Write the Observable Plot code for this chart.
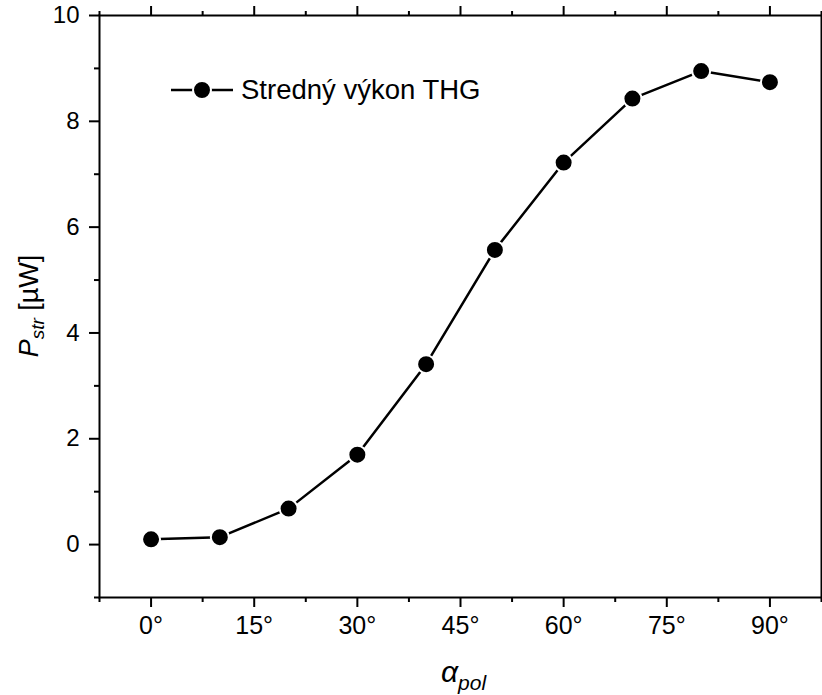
<!DOCTYPE html>
<html><head><meta charset="utf-8">
<script src="https://cdn.jsdelivr.net/npm/d3@7"></script>
<script src="https://cdn.jsdelivr.net/npm/@observablehq/plot@0.6"></script>
<style>body{margin:0;background:#fff} svg{overflow:visible}</style>
</head><body><div id="chart"></div>
<script>
const angles = [0, 10, 20, 30, 40, 50, 60, 70, 80, 90];
const power = [0.10, 0.14, 0.68, 1.70, 3.41, 5.57, 7.22, 8.43, 8.95, 8.74];
const xMajorTicks = [0, 15, 30, 45, 60, 75, 90];
const xMinorTicks = [-7.5, 7.5, 22.5, 37.5, 52.5, 67.5, 82.5, 97.5];
const yMajorTicks = [0, 2, 4, 6, 8, 10];
const yMinorTicks = [-1, 1, 3, 5, 7, 9];
const seriesName = "Stredný výkon THG";

const data = angles.map((a, i) => ({a, p: power[i]}));
const font = "'Liberation Sans', Arial, Helvetica, sans-serif";
const noText = () => "";

const plot = Plot.plot({
  width: 822, height: 695,
  marginLeft: 99, marginRight: 1, marginTop: 15, marginBottom: 98,
  x: {domain: [-7.5, 97.5]},
  y: {domain: [-1, 10]},
  style: {fontFamily: font, fontSize: "25px", background: "white", color: "black", overflow: "visible"},
  marks: [
    Plot.axisX(xMajorTicks, {anchor: "bottom", tickSize: 10, strokeWidth: 2, tickPadding: 9, fontSize: 25, tickFormat: d => d + "°", label: null}),
    Plot.axisX(xMinorTicks, {anchor: "bottom", tickSize: 5, strokeWidth: 2, tickFormat: noText, label: null}),
    Plot.axisX(xMajorTicks, {anchor: "top", tickSize: 10, strokeWidth: 2, tickFormat: noText, label: null}),
    Plot.axisX(xMinorTicks, {anchor: "top", tickSize: 5, strokeWidth: 2, tickFormat: noText, label: null}),
    Plot.axisY(yMajorTicks, {anchor: "left", tickSize: 10, strokeWidth: 2, tickPadding: 10, fontSize: 24, tickFormat: d => String(d), label: null}),
    Plot.axisY(yMinorTicks, {anchor: "left", tickSize: 5, strokeWidth: 2, tickFormat: noText, label: null}),
    Plot.frame({stroke: "black", strokeWidth: 2}),
    Plot.line(data, {x: "a", y: "p", stroke: "black", strokeWidth: 2.5}),
    Plot.dot(data, {x: "a", y: "p", r: 9, fill: "black", stroke: "white", strokeWidth: 2})
  ]
});

const svg = d3.select(plot);

// Legend
const lg = svg.append("g");
lg.append("line").attr("x1", 171).attr("x2", 233).attr("y1", 90).attr("y2", 90)
  .attr("stroke", "black").attr("stroke-width", 2.5);
lg.append("circle").attr("cx", 202).attr("cy", 90).attr("r", 9)
  .attr("fill", "black").attr("stroke", "white").attr("stroke-width", 2);
lg.append("text").attr("x", 241).attr("y", 99).attr("font-size", 27.5).attr("text-anchor", "start")
  .attr("font-family", font).attr("fill", "black").text(seriesName);

// Y label
const yl = svg.append("text").attr("transform", "translate(38,306) rotate(-90)")
  .attr("text-anchor", "middle").attr("font-size", 27).attr("font-family", font).attr("fill", "black");
yl.append("tspan").attr("font-style", "italic").text("P");
yl.append("tspan").attr("font-style", "italic").attr("font-size", 19).attr("dy", 6).text("str");
yl.append("tspan").attr("dy", -6).text(" [µW]");

// X label
const xl = svg.append("text").attr("x", 441).attr("y", 682).attr("text-anchor", "start")
  .attr("font-size", 30).attr("font-family", font).attr("fill", "black");
xl.append("tspan").attr("font-style", "italic").text("α");
xl.append("tspan").attr("font-style", "italic").attr("font-size", 21).attr("dy", 8).text("pol");

document.getElementById("chart").appendChild(plot);
</script></body></html>
